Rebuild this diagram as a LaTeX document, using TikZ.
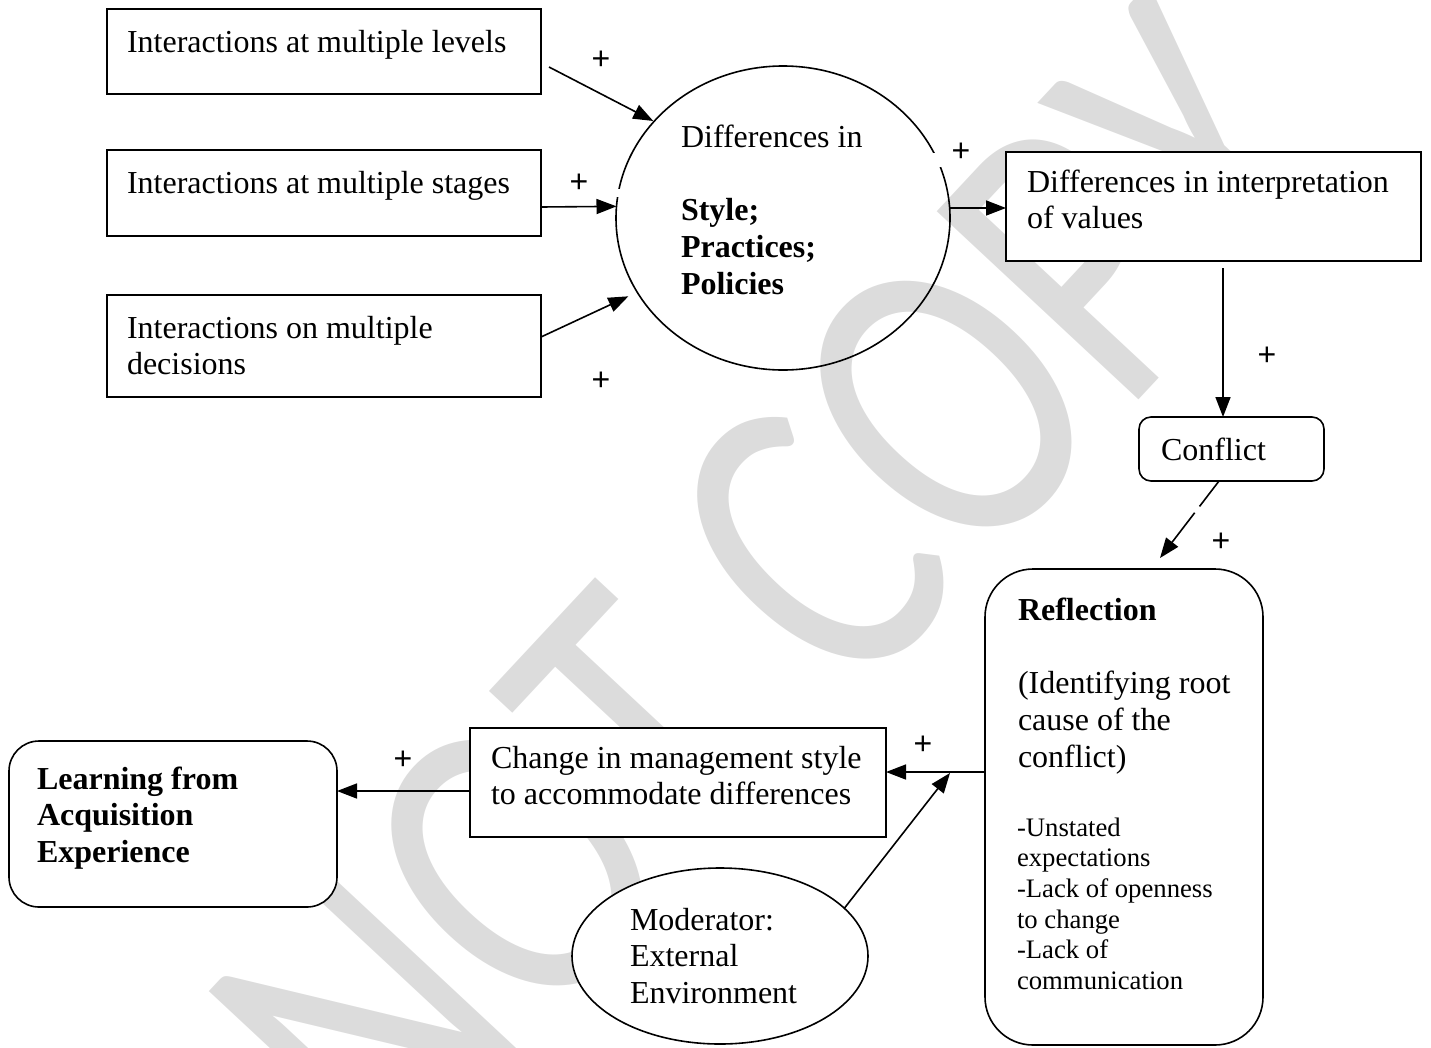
\documentclass[tikz,border=0pt]{standalone}
\usepackage{fontspec}
\setmainfont{Liberation Serif}
\newfontfamily\plusfont{Liberation Sans}
\newfontfamily\wmfont{Carlito}
\usetikzlibrary{arrows.meta,shapes.geometric}
\definecolor{wmgray}{RGB}{220,220,220}
\begin{document}
\begin{tikzpicture}[x=1pt,y=-1pt,
  every node/.style={inner sep=0pt, outer sep=0pt},
  box/.style={draw, fill=white, line width=1.6pt, rectangle},
  rbox/.style={box, rounded corners=#1},
  oval/.style={draw, fill=white, line width=1.6pt, ellipse},
  % multi-line texts are placed by the baseline of their last line
  txt/.style={anchor=base west, align=left, font=\fontsize{32}{36.8}\selectfont},
  small/.style={anchor=base west, align=left, font=\fontsize{26.7}{30.7}\selectfont},
  plus/.style={font=\plusfont\fontsize{32}{36}\selectfont},
  arr/.style={line width=1.6pt, -{Triangle[length=20pt,width=15pt]}},
]
\useasboundingbox (0,0) rectangle (1431,1047);

% watermark behind everything
\node[rotate=47, xscale=0.78, text=wmgray, font=\wmfont\fontsize{430}{430}\selectfont] (wm) at (600,775) {DO NOT COPY};

% boxes
\node[box, minimum width=434pt, minimum height=85pt] (b1) at (324,51.5) {};
\node[box, minimum width=434pt, minimum height=86pt] (b2) at (324,193) {};
\node[box, minimum width=434pt, minimum height=102pt] (b3) at (324,346) {};
\node[oval, fill=none, minimum width=334pt, minimum height=304pt] (ell) at (783,218) {};
\node[box, minimum width=415pt, minimum height=109pt] (b4) at (1213.5,206.5) {};
\node[rbox=12pt, minimum width=185pt, minimum height=64pt] (conf) at (1231.5,449) {};
\node[rbox=48pt, minimum width=278pt, minimum height=476pt] (refl) at (1124,807) {};
\node[box, minimum width=416pt, minimum height=109pt] (chg) at (678,782.5) {};
\node[rbox=30pt, minimum width=328pt, minimum height=166pt] (learn) at (173,824) {};
\node[oval, minimum width=296pt, minimum height=176pt] (mod) at (720,956) {};

% white label frames that break the big ellipse outline
\fill[white] (612,189) rectangle (628,197);
\fill[white] (926,153) rectangle (950,167);

% texts
\node[txt] (t1) at (127,52) {Interactions at multiple levels};
\node[txt] (t2) at (127,193) {Interactions at multiple stages};
\node[txt] (t3) at (127,374.8) {Interactions on multiple\\decisions};
\node[txt] (te) at (681,294.2) {Differences in\\[36.8pt]\textbf{Style;}\\\textbf{Practices;}\\\textbf{Policies}};
\node[txt] (t4) at (1027,228.8) {Differences in interpretation\\of values};
\node[txt] (tc) at (1161,460) {Conflict};
\node[txt] (tr) at (1018,767.2) {\textbf{Reflection}\\[36.8pt](Identifying root\\cause of the\\conflict)};
\node[small] (trs) at (1017,989.5) {-Unstated\\expectations\\-Lack of openness\\to change\\-Lack of\\communication};
\node[txt, font=\fontsize{32}{36.8}\selectfont\bfseries] (tl) at (37,862.6) {Learning from\\Acquisition\\Experience};
\node[txt] (tch) at (491,804.8) {Change in management style\\to accommodate differences};
\node[txt] (tm) at (630,1003.6) {Moderator:\\External\\Environment};

% connectors
\coordinate (junc) at (950,773);
\draw[arr] ([xshift=8pt,yshift=-15.5pt]b1.east) -- ([xshift=-5pt,yshift=-4pt]ell.141);
\draw[arr] ([yshift=-14pt]b2.east) -- (ell.176);
\draw[arr] ([yshift=9pt]b3.east) -- ([xshift=-6pt,yshift=-9pt]ell.205);
\draw[arr] ([yshift=10pt]ell.east) -- ([yshift=-1.5pt]b4.west);
\draw[arr] ([xshift=9.5pt,yshift=-7pt]b4.south) -- ([xshift=-8.5pt]conf.north);
\draw[arr, dash pattern=on 32pt off 8pt on 300pt] ([xshift=-12.5pt]conf.south) -- ([xshift=36pt,yshift=11pt]refl.north);
\draw[arr] ([yshift=35pt]refl.west) -- ([yshift=10.5pt]chg.east);
\draw[arr] (mod.21) -- (junc);
\draw[arr] ([yshift=-8.5pt]chg.west) -- ([yshift=33pt]learn.east);

% signs
\node[plus] (p1) at (601,60) {+};
\node[plus] (p2) at (579,183) {+};
\node[plus] (p3) at (601,381) {+};
\node[plus] (p4) at (961,152) {+};
\node[plus] (p5) at (1267,356) {+};
\node[plus] (p6) at (1221,542) {+};
\node[plus] (p7) at (923,745) {+};
\node[plus] (p8) at (403,760) {+};
\end{tikzpicture}
\end{document}
